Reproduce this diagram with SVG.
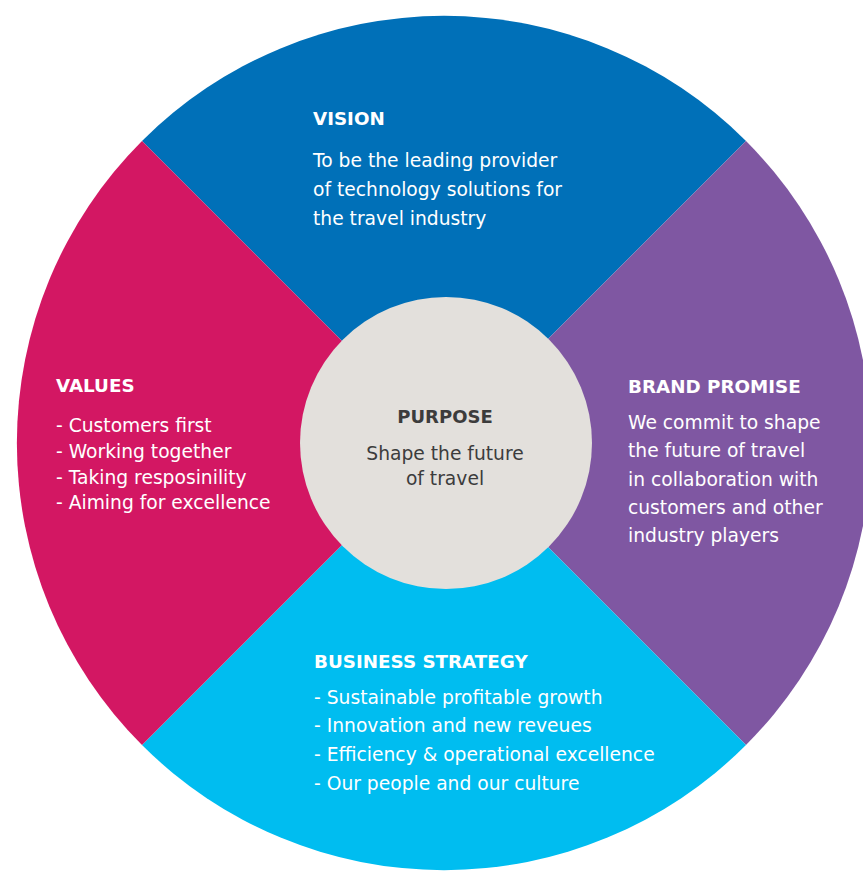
<svg xmlns="http://www.w3.org/2000/svg" width="863" height="874" viewBox="0 0 863 874">
<style>
.t{font-family:"DejaVu Sans","Liberation Sans",sans-serif;font-weight:bold;font-size:18.3px;fill:#ffffff}
.b{font-family:"DejaVu Sans","Liberation Sans",sans-serif;font-size:18.7px;fill:#ffffff}
.pt{font-family:"DejaVu Sans","Liberation Sans",sans-serif;font-weight:bold;font-size:18px;fill:#3c3c3c}
.pb{font-family:"DejaVu Sans","Liberation Sans",sans-serif;font-size:18.7px;fill:#3c3c3c}
</style>
<rect width="863" height="874" fill="#ffffff"/>
<g id="vision">
<path d="M444 443 L142 141 A427 427 0 0 1 746 141 Z" fill="#0070b8"/>
<text class="t" x="313" y="125">VISION</text>
<text class="b" x="313" y="167">To be the leading provider</text>
<text class="b" x="313" y="196">of technology solutions for</text>
<text class="b" x="313" y="225">the travel industry</text>
</g>
<g id="brand-promise">
<path d="M444 443 L746 141 A427 427 0 0 1 746 745 Z" fill="#7f57a2"/>
<text class="t" x="628" y="393">BRAND PROMISE</text>
<text class="b" x="628" y="429">We commit to shape</text>
<text class="b" x="628" y="457">the future of travel</text>
<text class="b" x="628" y="486">in collaboration with</text>
<text class="b" x="628" y="514">customers and other</text>
<text class="b" x="628" y="542">industry players</text>
</g>
<g id="business-strategy">
<path d="M444 443 L746 745 A427 427 0 0 1 142 745 Z" fill="#00bdf0"/>
<text class="t" x="314" y="668">BUSINESS STRATEGY</text>
<text class="b" x="314" y="704">- Sustainable profitable growth</text>
<text class="b" x="314" y="732">- Innovation and new reveues</text>
<text class="b" x="314" y="761">- Efficiency &amp; operational excellence</text>
<text class="b" x="314" y="790">- Our people and our culture</text>
</g>
<g id="values">
<path d="M444 443 L142 745 A427 427 0 0 1 142 141 Z" fill="#d31763"/>
<text class="t" x="56" y="392">VALUES</text>
<text class="b" x="56" y="432">- Customers first</text>
<text class="b" x="56" y="458">- Working together</text>
<text class="b" x="56" y="484">- Taking resposinility</text>
<text class="b" x="56" y="509">- Aiming for excellence</text>
</g>
<g id="purpose">
<circle cx="446" cy="443" r="146" fill="#e3e0dc"/>
<text class="pt" x="445" y="423" text-anchor="middle">PURPOSE</text>
<text class="pb" x="445" y="460" text-anchor="middle">Shape the future</text>
<text class="pb" x="445" y="485" text-anchor="middle">of travel</text>
</g>
</svg>
